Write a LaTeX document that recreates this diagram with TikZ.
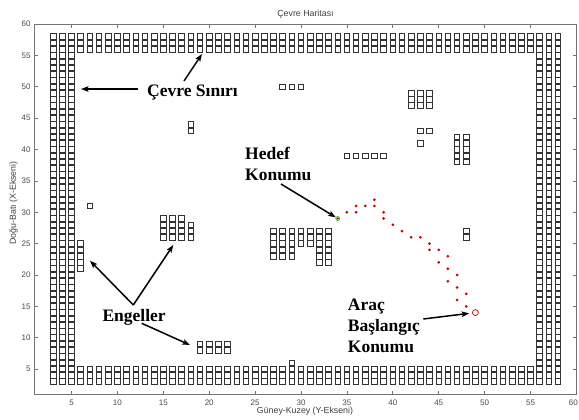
\documentclass[tikz,border=0pt]{standalone}
\usepackage{fontspec}
\setmainfont{Liberation Serif}
\setsansfont{Liberation Sans}
\usetikzlibrary{arrows.meta}
\newcommand\sqmark[2]{\draw[sqs] (#1,#2) ++(-2.8pt,-2.8pt) rectangle ++(5.6pt,5.6pt);}
\begin{document}
\begin{tikzpicture}[x=1pt,y=-1pt,
  sqs/.style={draw=black!80, line width=0.8pt},
  pathdot/.style={fill=red!80!black, draw=none},
  axisline/.style={draw=black!55, line width=0.8pt},
  ticklab/.style={font=\sffamily\fontsize{8}{9}\selectfont, text=black!70, inner sep=0pt},
  axlab/.style={font=\sffamily\fontsize{8.8}{10}\selectfont, text=black!75, inner sep=0pt},
  annot/.style={font=\bfseries\fontsize{17.5}{21}\selectfont, inner sep=0pt, align=left, anchor=base west},
  arr/.style={-{Stealth[length=7.5pt,width=5.5pt,inset=1.5pt]}, line width=1.5pt, black},
  goalmark/.style={circle, draw=green!65!black, fill=green!35, line width=0.5pt, minimum size=4pt, inner sep=0pt},
  startmark/.style={circle, draw=red!80!black, line width=0.7pt, minimum size=6pt, inner sep=0pt}]
\useasboundingbox (0,0) rectangle (579,420);
\fill[white] (0,0) rectangle (579,420);
% plot area in data coordinates
\begin{scope}[shift={(25.6,400.35)},x=9.18pt,y=6.27pt]
  \draw[axisline] (1,1) rectangle (60,60);
  \foreach \t in {5,10,...,60} {
    \draw[axisline] (\t,1) -- ++(0pt,3.5pt);
    \draw[axisline] (\t,60) -- ++(0pt,-3.5pt);
    \draw[axisline] (1,\t) -- ++(3.5pt,0pt);
    \draw[axisline] (60,\t) -- ++(-3.5pt,0pt);
    \node[ticklab, anchor=east] (yt\t) at ([xshift=-4pt]1,\t) {\t};
  }
  \foreach \t in {5,10,...,55} {
    \node[ticklab, anchor=north] (xt\t) at ([yshift=-5.5pt]\t,1) {\t};
  }
  \node[ticklab, anchor=north] (xt60) at ([yshift=-5.5pt,xshift=-3pt]60,1) {60};
  % boundary
  \foreach \x in {3,4,5,56,57,58} \foreach \y in {3,...,58} {\sqmark{\x}{\y}}
  \foreach \x in {6,...,55} \foreach \y in {3,4,5,56,57,58} {\sqmark{\x}{\y}}
  % obstacles
  \foreach \y in {21,...,25} {\sqmark{6}{\y}}
  \sqmark{7}{31}
  \sqmark{18}{43}\sqmark{18}{44}
  \foreach \x in {15,16,17} \foreach \y in {26,...,29} {\sqmark{\x}{\y}}
  \foreach \y in {26,27,28} {\sqmark{18}{\y}}
  \foreach \x in {19,...,22} \foreach \y in {8,9} {\sqmark{\x}{\y}}
  \sqmark{29}{6}
  \foreach \x in {27,28,29} \foreach \y in {23,...,27} {\sqmark{\x}{\y}}
  \foreach \x in {30,31} \foreach \y in {25,26,27} {\sqmark{\x}{\y}}
  \foreach \x in {32,33} \foreach \y in {22,...,27} {\sqmark{\x}{\y}}
  \foreach \x in {28,29,30} {\sqmark{\x}{50}}
  \foreach \x in {35,...,39} {\sqmark{\x}{39}}
  \foreach \x in {42,43,44} \foreach \y in {47,48,49} {\sqmark{\x}{\y}}
  \sqmark{43}{43}\sqmark{44}{43}\sqmark{43}{41}
  \foreach \x in {47,48} \foreach \y in {38,...,42} {\sqmark{\x}{\y}}
  \sqmark{48}{26}\sqmark{48}{27}
  % path
  \node[goalmark] (goal) at (34,29) {};
  \fill[pathdot] (goal.center) circle (1.1pt);
  \node[startmark] (start) at (49,14) {};
  \foreach \x/\y in {35/30,36/30,36/31,37/31,38/31,38/32,39/30,39/29,40/28,41/27,42/26,43/26,44/25,44/24,45/24,45/22,46/23,46/21,46/19,47/20,47/18,47/16,48/17,48/15}
    {\fill[pathdot] (\x,\y) circle (1.5pt);}
\end{scope}
% axis texts
\node[axlab] (title) at (305.5,14) {Çevre Haritası};
\node[axlab] (xlab) at (305,411) {Güney-Kuzey (Y-Ekseni)};
\node[axlab, rotate=90] (ylab) at (13.5,203) {Doğu-Batı (X-Ekseni)};
% annotations (base = baseline of last line)
\node[annot] (cevre) at (147,97) {Çevre Sınırı};
\node[annot] (hedef) at (245,180.5) {Hedef\\Konumu};
\node[annot] (engel) at (102.3,321) {Engeller};
\node[annot] (arac) at (347.7,352.7) {Araç\\Başlangıç\\Konumu};
% arrow anchor points
\coordinate (c1s) at (138,89);  \coordinate (c1e) at (81,89);
\coordinate (c2s) at (184,81);  \coordinate (c2e) at (202,54);
\coordinate (hs) at (281,184);
\coordinate (es) at (133.3,305);
\coordinate (e1e) at (90,260.7);
\coordinate (e2e) at (173.3,245);
\coordinate (e3s) at (141.7,323.3); \coordinate (e3e) at (190,345);
\coordinate (as) at (423.3,319);
\draw[arr] (c1s) -- (c1e);
\draw[arr] (c2s) -- (c2e);
\draw[arr] (hs) -- (goal);
\draw[arr] (es) -- (e1e);
\draw[arr] (es) -- (e2e);
\draw[arr] (e3s) -- (e3e);
\draw[arr, shorten >=3pt] (as) -- (start);
\end{tikzpicture}
\end{document}
